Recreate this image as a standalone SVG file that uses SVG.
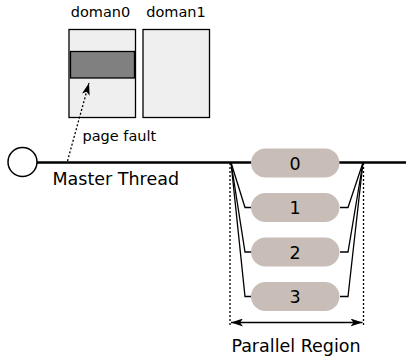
<svg xmlns="http://www.w3.org/2000/svg" width="406" height="358" viewBox="0 0 406 358">
<style>
text{font-family:"DejaVu Sans",sans-serif;fill:#000}
.lbl{font-size:14.5px}
.big{font-size:17.5px}
.box{fill:#efefef;stroke:#000;stroke-width:1.3}
.pill{fill:#c8beb7}
.thin{fill:none;stroke:#000;stroke-width:1.3}
.dot{fill:none;stroke:#000;stroke-width:1.3;stroke-dasharray:2,2}
</style>
<defs>
<marker id="ah" viewBox="0 0 12 8" refX="12" refY="4" markerWidth="12" markerHeight="8" markerUnits="userSpaceOnUse" orient="auto-start-reverse">
<path d="M0,0 L12,4 L0,8 L3,4 Z" fill="#000"/>
</marker>
</defs>
<rect width="406" height="358" fill="#fff"/>
<g id="domain0">
<rect class="box" x="69" y="29.5" width="66.5" height="88"/>
<rect x="70.5" y="51.5" width="64" height="26.5" fill="#808080" stroke="#000" stroke-width="1.3"/>
<text class="lbl" x="100.5" y="17" text-anchor="middle">doman0</text>
</g>
<g id="domain1">
<rect class="box" x="143" y="29.5" width="66.5" height="88"/>
<text class="lbl" x="176" y="17" text-anchor="middle">doman1</text>
</g>
<g id="connectors">
<line x1="37" y1="162.5" x2="406" y2="162.5" stroke="#000" stroke-width="2.6"/>
<line class="dot" x1="67.5" y1="161" x2="89" y2="83" marker-end="url(#ah)"/>
<polyline class="thin" points="231,162.5 245,207.5 252,207.5"/>
<polyline class="thin" points="231,162.5 245,252 252,252"/>
<polyline class="thin" points="231,162.5 245,296.5 252,296.5"/>
<polyline class="thin" points="363,162.5 348,207.5 340,207.5"/>
<polyline class="thin" points="363,162.5 348,252 340,252"/>
<polyline class="thin" points="363,162.5 348,296.5 340,296.5"/>
<line class="dot" x1="230" y1="163" x2="230" y2="327"/>
<line class="dot" x1="363.5" y1="163" x2="363.5" y2="327"/>
<line x1="231" y1="322.5" x2="362.5" y2="322.5" stroke="#000" stroke-width="1.6" marker-start="url(#ah)" marker-end="url(#ah)"/>
</g>
<g id="master">
<circle cx="22.5" cy="162" r="14.5" fill="#fff" stroke="#000" stroke-width="1.5"/>
<text class="big" x="52.5" y="185">Master Thread</text>
</g>
<text class="lbl" x="82.5" y="141">page fault</text>
<g id="t0"><rect class="pill" x="251" y="148.5" width="88.5" height="29" rx="14.5"/><text class="big" x="295" y="169.5" text-anchor="middle">0</text></g>
<g id="t1"><rect class="pill" x="251" y="193" width="88.5" height="29" rx="14.5"/><text class="big" x="295" y="214" text-anchor="middle">1</text></g>
<g id="t2"><rect class="pill" x="251" y="237.5" width="88.5" height="29" rx="14.5"/><text class="big" x="295" y="258.5" text-anchor="middle">2</text></g>
<g id="t3"><rect class="pill" x="251" y="282" width="88.5" height="29" rx="14.5"/><text class="big" x="295" y="303" text-anchor="middle">3</text></g>
<text class="big" x="296" y="352" text-anchor="middle">Parallel Region</text>
</svg>
